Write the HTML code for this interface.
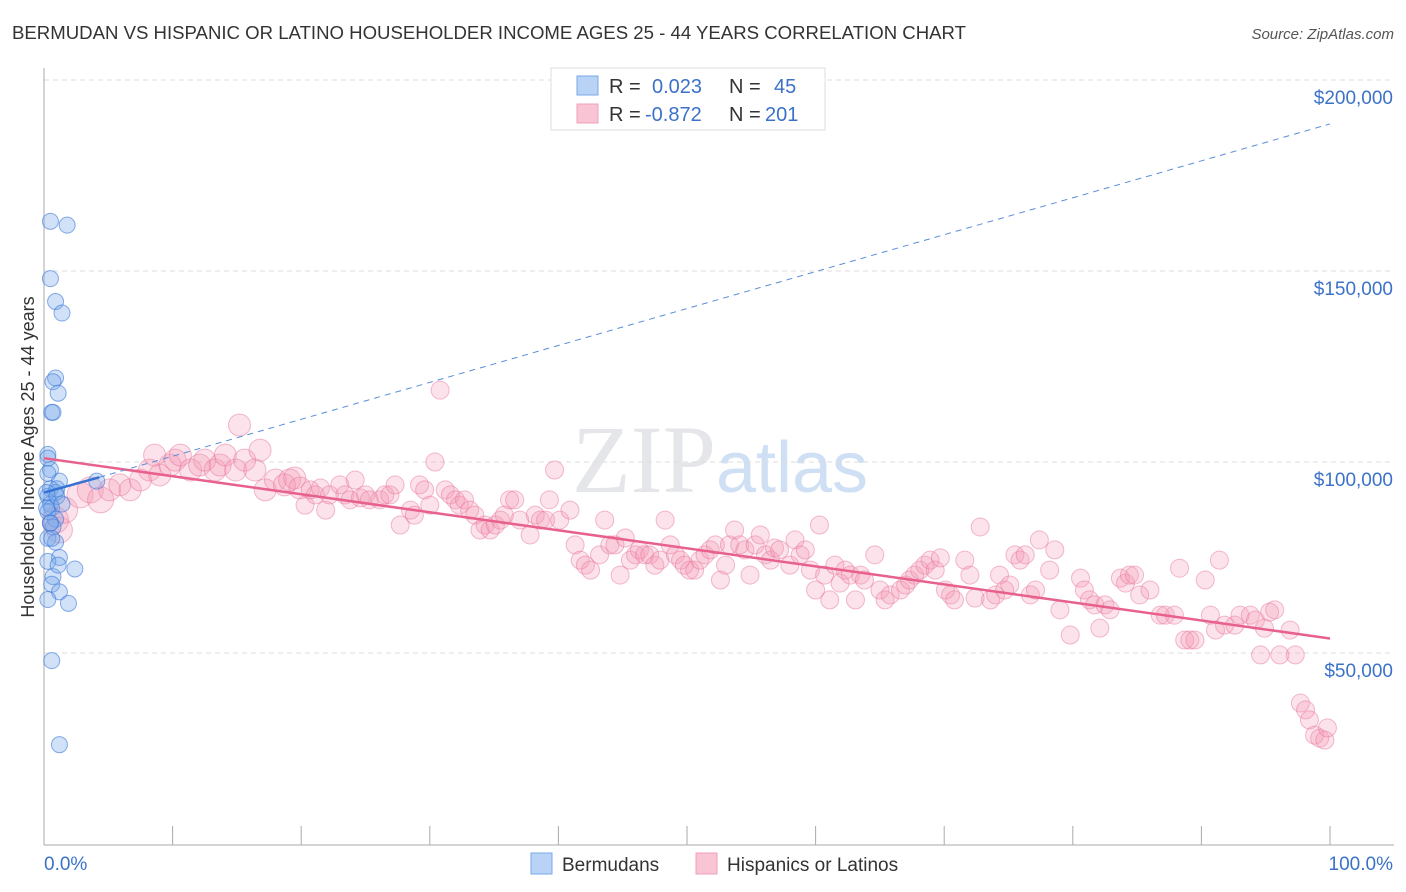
<!DOCTYPE html>
<html><head><meta charset="utf-8"><style>
body{margin:0;background:#fff;font-family:"Liberation Sans",sans-serif}
svg{display:block}
</style></head><body>
<svg id="chart" width="1406" height="892">
<text x="12" y="39" font-size="18.6" fill="#333">BERMUDAN VS HISPANIC OR LATINO HOUSEHOLDER INCOME AGES 25 - 44 YEARS CORRELATION CHART</text>
<text x="1394" y="39" font-size="15" fill="#555" font-style="italic" text-anchor="end">Source: ZipAtlas.com</text>
<text x="0" y="0" transform="translate(34,457) rotate(-90)" font-size="18" fill="#333" text-anchor="middle">Householder Income Ages 25 - 44 years</text>
<text x="720" y="492" font-size="96" fill="#e4e6ea" text-anchor="middle" font-family="Liberation Serif,serif">ZIP<tspan fill="#cfe0f4" font-family="Liberation Sans,sans-serif" font-size="72">atlas</tspan></text>
<g id="grid"></g><g id="axes"></g><g id="pts"></g><g id="lines"></g>
<g>
<rect x="551" y="68" width="274" height="62" fill="#fff" stroke="#ddd"/>
<rect x="577" y="76" width="21" height="19" fill="#b8d3f5" stroke="#7aaae8"/>
<rect x="577" y="104" width="21" height="19" fill="#f9c4d4" stroke="#f0a0ba"/>
<text x="609" y="93" font-size="20" fill="#333">R = <tspan fill="#3b72c8" x="652">0.023</tspan><tspan x="729" fill="#333">N = </tspan><tspan x="774" fill="#3b72c8">45</tspan></text>
<text x="609" y="121" font-size="20" fill="#333">R = <tspan fill="#3b72c8" x="645">-0.872</tspan><tspan x="729" fill="#333">N = </tspan><tspan x="765" fill="#3b72c8">201</tspan></text>
</g>
<g><rect x="531" y="853" width="21" height="21" fill="#b8d3f5" stroke="#7aaae8"/><text x="562" y="871" font-size="19" fill="#333">Bermudans</text></g>
<g><rect x="696" y="853" width="21" height="21" fill="#f9c4d4" stroke="#f0a0ba"/><text x="727" y="871" font-size="19" fill="#333">Hispanics or Latinos</text></g>
</svg>
<script>
const yTicks=[50000,100000,150000,200000];
const yTickLabels=["$50,000","$100,000","$150,000","$200,000"];
const xTickLabels=["0.0%","100.0%"];
const blueX=[0.5,1.8,0.5,0.9,1.4,0.9,0.7,1.1,0.6,0.7,0.3,0.5,1.2,4.1,0.5,0.9,0.3,0.5,0.6,0.3,0.9,0.5,0.7,0.3,0.9,1.2,0.3,2.4,0.7,0.6,1.2,0.3,1.9,0.6,1.2,0.3,1.0,0.2,0.5,0.6,1.1,0.3,0.2,1.0,1.4];
const blueY=[163,162,148,142,139,122,121,118,113,113,102,98,95,95,93,92,91,89,88,87,85,84,83,80,79,75,74,72,70,68,66,64,63,48,26,101,93,88,84,80,73,97,92,91,89];
const pinkX=[0.9,1.2,1.6,2.8,3.6,4.4,5.1,5.9,6.7,7.5,8.2,8.6,9.0,9.8,10.2,10.6,11.4,12.1,12.5,13.3,13.7,14.1,14.9,15.2,15.6,16.4,16.8,17.2,18.0,18.7,19.1,19.5,19.9,20.3,20.7,21.1,21.5,21.9,22.2,23.0,23.4,23.8,24.2,24.6,25.0,25.3,26.1,26.5,26.9,27.3,27.7,28.5,28.8,29.2,29.6,30.0,30.4,30.8,31.2,31.6,32.0,32.3,32.7,33.1,33.5,33.9,34.3,34.7,35.1,35.5,35.8,36.2,36.6,37.0,37.8,38.2,38.6,39.0,39.3,39.7,40.1,40.9,41.3,41.7,42.1,42.5,43.2,43.6,44.0,44.4,44.8,45.2,45.6,46.0,46.3,46.7,47.1,47.5,47.9,48.3,48.7,49.1,49.5,49.8,50.2,50.6,51.0,51.4,51.8,52.2,52.6,53.0,53.3,53.7,54.1,54.5,54.9,55.3,55.7,56.1,56.5,56.8,57.2,58.0,58.4,58.8,59.2,59.6,60.0,60.3,60.7,61.1,61.5,61.9,62.3,62.7,63.1,63.5,63.8,64.6,65.0,65.4,65.8,66.6,67.0,67.3,67.7,68.1,68.5,68.9,69.3,69.7,70.1,70.5,70.8,71.6,72.0,72.4,72.8,73.6,74.0,74.3,74.7,75.1,75.5,75.9,76.3,76.7,77.1,77.4,78.2,78.6,79.0,79.8,80.6,80.9,81.3,81.7,82.1,82.5,82.9,83.7,84.1,84.4,84.8,85.2,86.0,86.8,87.2,87.9,88.3,88.7,89.1,89.5,90.3,90.7,91.1,91.4,91.8,92.6,93.0,93.8,94.2,94.6,94.9,95.3,95.7,96.1,96.9,97.3,97.7,98.1,98.4,98.8,99.2,99.6,99.8];
const pinkY=[84.8,82.2,87.4,91.4,92.7,90.1,92.7,94.0,92.7,95.3,97.9,101.8,96.6,99.2,100.5,101.8,97.9,99.2,100.5,97.9,99.2,101.8,97.9,109.7,100.5,97.9,103.1,92.7,95.3,94.0,95.3,95.8,93.2,88.7,92.7,91.4,93.2,87.4,91.4,94.0,91.4,90.1,95.3,90.6,91.4,90.1,90.1,91.4,91.4,94.0,83.5,87.4,86.1,94.0,92.7,88.7,100,118.8,92.7,91.4,90.1,88.7,90.1,87.4,86.1,82.2,83.5,82.2,83.5,84.8,86.1,90.1,90.1,84.8,80.9,86.1,84.8,84.8,90.1,97.9,84.8,87.4,78.3,74.3,73.0,71.7,75.7,84.8,78.3,78.3,70.4,80.1,74.3,75.7,77.0,75.7,75.7,73.0,74.3,84.8,78.3,75.7,74.3,73.0,71.7,71.7,74.3,75.7,77.0,78.3,69.1,73.0,78.3,82.2,78.3,77.0,70.4,78.3,80.9,75.7,74.3,77.5,77.0,73.0,79.6,75.7,77.0,71.7,66.5,83.5,70.4,63.9,73.0,68.3,71.7,70.4,63.9,70.4,69.1,75.7,66.5,63.9,65.2,66.5,67.8,69.1,70.4,71.7,73.0,74.3,71.7,74.9,66.5,65.2,63.9,74.3,70.4,64.4,83.0,63.9,65.2,70.4,66.5,67.8,75.7,74.3,75.7,65.2,66.5,79.6,71.7,77.0,61.3,54.7,69.6,66.5,63.9,62.6,56.5,62.6,61.3,69.6,68.3,70.4,70.4,65.2,66.5,59.9,59.9,59.9,72.2,53.4,53.4,53.4,69.1,59.9,56.0,74.3,57.3,57.3,59.9,59.9,58.6,49.5,56.5,60.7,61.3,49.5,56.0,49.5,36.9,35.1,32.5,28.5,27.7,27.2,30.4];
const pinkTrend=[101.0,53.8];
const blueTrend=[92.0,96.0,188.5];
const NS='http://www.w3.org/2000/svg';
const X0=44,X1=1330,Y0=844,PXK=3.82;
const xs=p=>X0+(X1-X0)*p/100;
const ys=v=>Y0-v*PXK/1000;
function mk(t,a,parent){const e=document.createElementNS(NS,t);for(const k in a)e.setAttribute(k,a[k]);parent.appendChild(e);return e;}
const grid=document.getElementById('grid'),axes=document.getElementById('axes'),pts=document.getElementById('pts'),lines=document.getElementById('lines');
yTicks.forEach((v,i)=>{
  const g=mk('line',{x1:X0,x2:1394,y1:ys(v),y2:ys(v),stroke:'#ddd','stroke-dasharray':'5,4'},grid);
  
  
  const t=mk('text',{x:1393,y:ys(v)+24,'font-size':19,fill:'#3b72c8','text-anchor':'end'},axes);
  t.textContent=yTickLabels[i];
  
  
});
mk('line',{x1:X0,x2:X0,y1:68,y2:845,stroke:'#aaa'},axes);
mk('line',{x1:X0,x2:1394,y1:845,y2:845,stroke:'#aaa'},axes);
for(let i=0;i<=10;i++){const l=mk('line',{x1:xs(i*10),x2:xs(i*10),y1:826,y2:845,stroke:'#aaa'},axes);
  
  }
const xl0=mk('text',{x:44,y:870,'font-size':19,fill:'#3b72c8'},axes);xl0.textContent=xTickLabels[0];


const xl1=mk('text',{x:1393,y:870,'font-size':19,fill:'#3b72c8','text-anchor':'end'},axes);xl1.textContent=xTickLabels[1];


pinkX.forEach((x,i)=>{const r=x<5?13:x<20?11:9;
  const c=mk('circle',{cx:xs(x),cy:ys(pinkY[i]*1000),r:r,fill:'rgba(244,150,180,0.28)',stroke:'rgba(232,120,160,0.5)','stroke-width':1},pts);
  
  });
blueX.forEach((x,i)=>{
  const c=mk('circle',{cx:xs(x),cy:ys(blueY[i]*1000),r:8,fill:'rgba(120,170,235,0.35)',stroke:'rgba(60,120,215,0.6)','stroke-width':1},pts);
  
  });
const pl=mk('line',{x1:xs(0),y1:ys(pinkTrend[0]*1000),x2:xs(100),y2:ys(pinkTrend[1]*1000),stroke:'#e8608c','stroke-width':2.5},lines);


const bd=mk('line',{x1:xs(4.3),y1:ys(blueTrend[1]*1000),x2:xs(100),y2:ys(blueTrend[2]*1000),stroke:'#5a8ed8','stroke-width':1,'stroke-dasharray':'6,5'},lines);


const bl=mk('line',{x1:xs(0),y1:ys(blueTrend[0]*1000),x2:xs(4.3),y2:ys(blueTrend[1]*1000),stroke:'#3572d4','stroke-width':2.5},lines);


</script>
</body></html>
